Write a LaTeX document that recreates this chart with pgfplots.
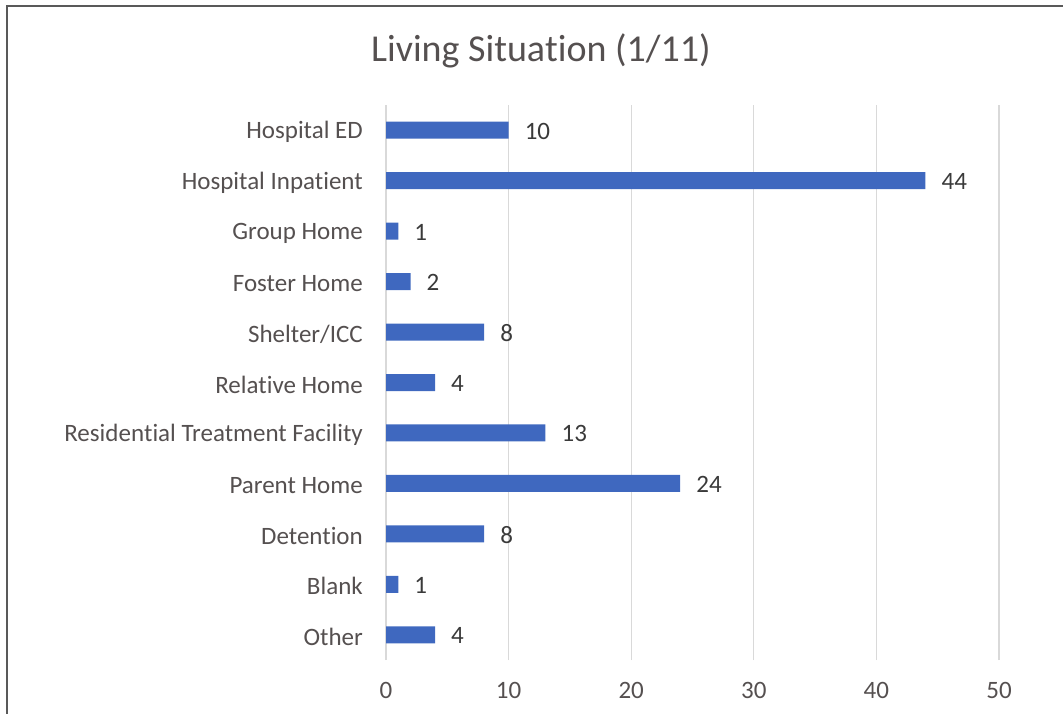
\documentclass[border=0pt]{standalone}
\usepackage{pgfplots}
\pgfplotsset{compat=1.18}
\usepackage{fontspec}
\setmainfont{Carlito}[RawFeature={-liga;-calt;-dlig}]
\definecolor{barblue}{HTML}{3F68BF}
\definecolor{txt}{HTML}{555050}
\definecolor{lbl}{HTML}{3A3A3A}
\definecolor{gridc}{HTML}{D9D9D9}
\begin{document}
\begin{tikzpicture}[x=1pt,y=1pt]
\useasboundingbox (0,0) rectangle (1063,713);
\draw[line width=1.8pt, color=black!65] (7,-5) -- (7,707) -- (1070,707);
\node[font=\fontsize{38}{44}\selectfont, text=txt] at (541,662) {Living Situa\kern0pt tion (1/11)};
\begin{axis}[
  at={(386pt,53pt)}, anchor=south west,
  scale only axis, width=613pt, height=555pt,
  xbar, bar width=17pt,
  xmin=0, xmax=50, ymin=-0.5, ymax=10.5,
  xtick={0,10,20,30,40,50},
  ytick={0,1,2,3,4,5,6,7,8,9,10},
  yticklabels={Other,Blank,Detention,Parent Home,Residen\kern0pt tial Treatment Facility,Relative Home,Shelter/ICC,Foster Home,Group Home,Hospital Inpatient,Hospital ED},
  axis line style={draw=none},
  xmajorgrids=true, ymajorgrids=false,
  major grid style={draw=gridc, line width=1.2pt},
  major tick length=0pt,
  tick style={draw=none},
  /pgf/number format/assume math mode=true,
  ticklabel style={font=\fontsize{25}{30}\selectfont, text=txt},
  yticklabel style={inner sep=0pt, xshift=-23pt, yshift=-2pt},
  xticklabel style={inner sep=0pt, yshift=-22pt},
  nodes near coords,
  nodes near coords style={font=\fontsize{25}{30}\selectfont, text=lbl, anchor=west, inner sep=0pt, xshift=16pt, yshift=-1pt},
  clip=false,
]
\addplot[fill=barblue, draw=none] coordinates {
 (4,0) (1,1) (8,2) (24,3) (13,4) (4,5) (8,6) (2,7) (1,8) (44,9) (10,10)
};
\end{axis}
\end{tikzpicture}
\end{document}
